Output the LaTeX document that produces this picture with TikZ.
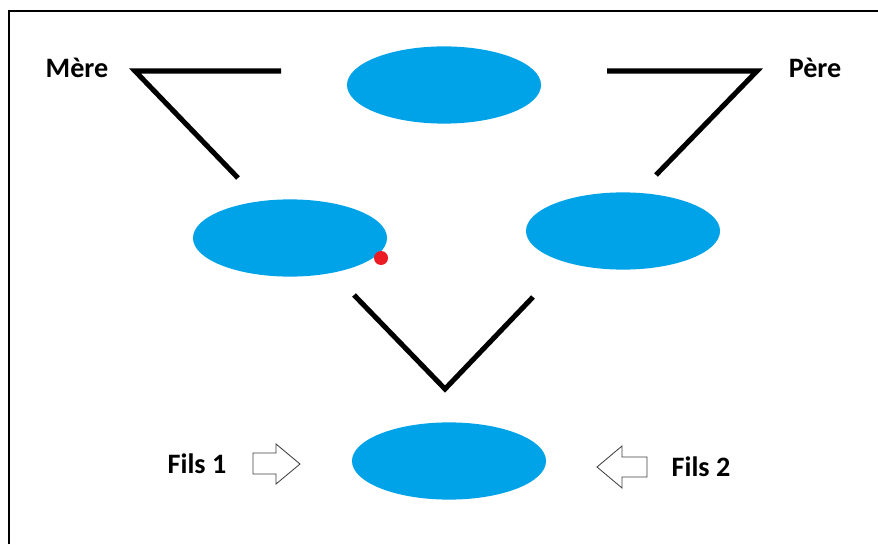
\documentclass[tikz,border=0pt]{standalone}
\usepackage{fontspec}
\setmainfont{Carlito}
\usetikzlibrary{shapes.geometric, positioning}
\definecolor{paintblue}{HTML}{00A2E8}
\definecolor{paintred}{HTML}{ED1C24}

\begin{document}
\begin{tikzpicture}[x=0.025cm, y=-0.025cm]
		\tikzstyle{Person} = [ellipse, minimum width=4.85cm, minimum height=1.93cm, inner sep=0, fill=paintblue]
		\tikzstyle{Label} = [font=\fontsize{20}{24}\selectfont\bfseries, anchor=base, inner sep=0]
		\tikzstyle{link} = [line width=3.6pt, black, line join=miter]
		\tikzstyle{hollow} = [draw=black!75, line width=0.6pt, fill=white, line join=miter]
		
		\useasboundingbox (0,0) rectangle (878,544);
		\draw [line width=1.5pt, black] (9,544) -- (9,11) -- (878,11);
		
		\node (top) [Person] at (444,85) {};
		\node (left) [Person] at (290,238) {};
		\node (right) [Person] at (623,231) {};
		\node (child) [Person] at (449,461) {};
		\fill [paintred] (381,258) circle (0.175cm);
		
		\node (mere) [Label] at (77,78) {Mère};
		\node (pere) [Label] at (815,78) {Père};
		\node (fils1) [Label] at (197,473) {Fils 1};
		\node (fils2) [Label] at (701,476) {Fils 2};
		
		\coordinate (m0) at (135,71);
		\coordinate (m1) at (281,71);
		\coordinate (m2) at (238,178);
		\draw [link] (m1) -- (m0) -- (m2);
		
		\coordinate (p0) at (757,71);
		\coordinate (p1) at (607,71);
		\coordinate (p2) at (656,175);
		\draw [link] (p1) -- (p0) -- (p2);
		
		\coordinate (v0) at (354,295);
		\coordinate (v1) at (445,389);
		\coordinate (v2) at (533,297);
		\draw [link] (v0) -- (v1) -- (v2);
		
		\draw [hollow] (253,453) -- (276,453) -- (276,444) -- (300,464) -- (276,484) -- (276,474) -- (253,474) -- cycle;
		\draw [hollow] (647,457) -- (622,457) -- (622,446) -- (597,467) -- (622,488) -- (622,477) -- (647,477) -- cycle;
		\end{tikzpicture}
\end{document}
